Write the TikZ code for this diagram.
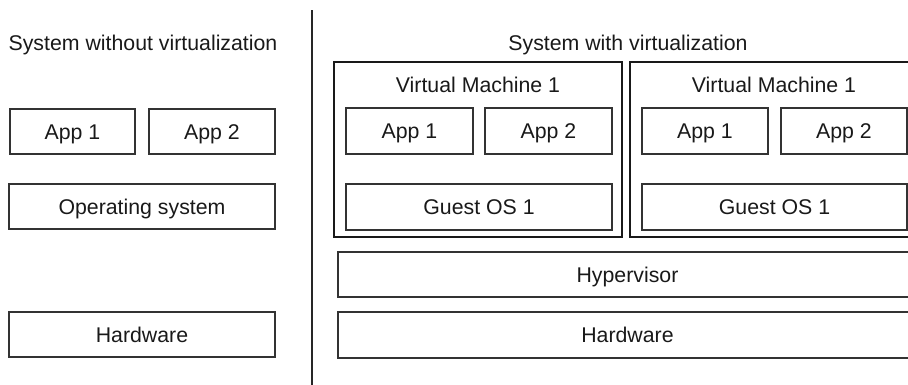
\documentclass[tikz,border=0pt]{standalone}
\usepackage{fontspec}
\setmainfont{Liberation Sans}
\begin{document}
\begin{tikzpicture}[x=1pt,y=-1pt,
  every node/.style={font=\fontsize{21.3}{24}\selectfont, text=black!90, inner sep=0pt, outer sep=0pt, text height=15pt, text depth=0pt},
  box/.style={draw=black!80, line width=1.1pt, minimum height=45pt},
  vmbox/.style={draw=black!90, line width=2pt, minimum height=175pt, minimum width=288pt},
  lbl/.style={}]
\useasboundingbox (0,0) rectangle (908,384);
\clip (0,0) rectangle (908,384);
% left side
\node[lbl] (tl) at (143,43) {System without virtualization};
\node[box, minimum width=125pt] (lapp1) at (72.5,131.5) {App 1};
\node[box, minimum width=126pt] (lapp2) at (212,131.5) {App 2};
\node[box, minimum width=266pt] (los) at (142,206.5) {Operating system};
\node[box, minimum width=266pt] (lhw) at (142,334.5) {Hardware};
% divider
\coordinate (dtop) at (312,10);
\coordinate (dbot) at (312,386);
\draw[line width=1.5pt, black!85] (dtop) -- (dbot);
% right side
\node[lbl] (tr) at (628,43) {System with virtualization};
\node[vmbox] (vm1) at (478,149.5) {};
\node[lbl] (vm1l) at (478,85) {Virtual Machine 1};
\node[box, minimum width=127pt, minimum height=46pt] (v1a1) at (409.5,131) {App 1};
\node[box, minimum width=127pt, minimum height=46pt] (v1a2) at (548.5,131) {App 2};
\node[box, minimum width=266pt, minimum height=46pt] (v1os) at (479,207) {Guest OS 1};
\node[vmbox] (vm2) at (774,149.5) {};
\node[lbl] (vm2l) at (774,85) {Virtual Machine 1};
\node[box, minimum width=126pt, minimum height=46pt] (v2a1) at (705,131) {App 1};
\node[box, minimum width=126pt, minimum height=46pt] (v2a2) at (844,131) {App 2};
\node[box, minimum width=265pt, minimum height=46pt] (v2os) at (774.5,207) {Guest OS 1};
\node[box, minimum width=579pt] (hyp) at (627.5,274.5) {Hypervisor};
\node[box, minimum width=579pt, minimum height=46pt] (rhw) at (627.5,335) {Hardware};
\end{tikzpicture}
\end{document}
